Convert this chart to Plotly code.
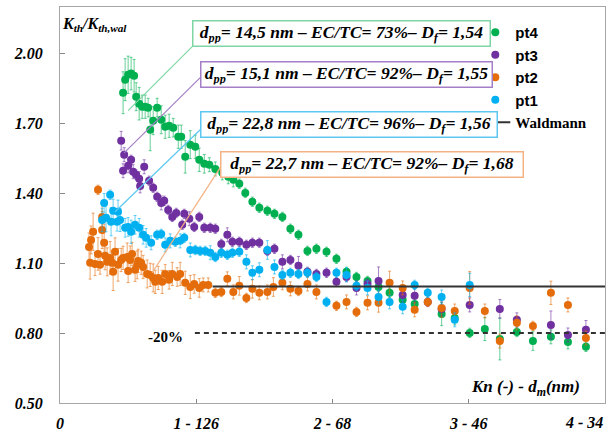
import plotly.graph_objects as go

# ---------------- data ----------------
pt4_x = [0.463,0.478,0.500,0.522,0.544,0.559,0.581,0.603,0.625,0.647,0.662,0.684,0.713,0.743,0.772,0.801,0.831,0.868,0.890,0.919,0.956,0.993,1.022,1.059,1.096,1.140,1.191,1.235,1.272,1.316,1.360,1.412,1.463,1.522,1.574,1.632,1.691,1.750,1.816,1.882,1.956,2.029,2.103,2.176,2.257,2.338,2.419,2.515,2.603,2.801,2.897,3.007,3.118,3.228,3.353,3.471,3.603,3.728,3.860]
pt4_y = [1.832,1.888,1.909,1.914,1.905,1.815,1.785,1.772,1.772,1.768,1.673,1.712,1.768,1.716,1.686,1.690,1.682,1.643,1.643,1.557,1.609,1.600,1.544,1.527,1.523,1.505,1.488,1.471,1.458,1.441,1.402,1.364,1.338,1.325,1.312,1.299,1.248,1.222,1.153,1.162,1.149,1.119,1.063,1.041,1.024,0.998,0.973,0.943,0.925,0.882,0.865,0.801,0.818,0.775,0.805,0.766,0.784,0.762,0.741]
pt4_err = [0.09,0.09,0.08,0.07,0.07,0.06,0.07,0.05,0.05,0.04,0.09,0.06,0.04,0.06,0.05,0.05,0.04,0.05,0.05,0.07,0.06,0.05,0.05,0.04,0.03,0.03,0.03,0.03,0.03,0.02,0.02,0.02,0.02,0.02,0.02,0.02,0.02,0.02,0.02,0.02,0.02,0.02,0.02,0.02,0.02,0.02,0.02,0.03,0.02,0.05,0.03,0.02,0.05,0.09,0.02,0.04,0.03,0.03,0.02]

pt3_x = [0.449,0.463,0.471,0.500,0.522,0.537,0.559,0.581,0.588,0.618,0.654,0.684,0.713,0.743,0.765,0.794,0.824,0.853,0.897,0.912,0.949,0.985,1.022,1.059,1.103,1.140,1.184,1.228,1.265,1.316,1.368,1.412,1.463,1.522,1.574,1.632,1.691,1.750,1.816,1.882,1.956,2.029,2.103,2.176,2.257,2.338,2.515,2.603,2.699,2.801,3.007,3.228,3.353,3.603,3.728,3.860]
pt3_y = [1.626,1.497,1.566,1.518,1.544,1.493,1.480,1.463,1.432,1.514,1.454,1.424,1.385,1.359,1.368,1.329,1.299,1.316,1.265,1.312,1.291,1.256,1.299,1.252,1.252,1.248,1.183,1.222,1.192,1.192,1.179,1.188,1.188,1.153,1.162,1.106,1.114,1.089,1.063,1.054,1.059,1.020,1.041,0.994,1.011,1.024,0.964,0.960,0.934,0.904,0.921,0.904,0.857,0.835,0.792,0.814]
pt3_err = [0.04,0.03,0.03,0.03,0.02,0.03,0.02,0.03,0.03,0.03,0.02,0.02,0.02,0.03,0.02,0.02,0.02,0.02,0.02,0.02,0.03,0.02,0.02,0.02,0.02,0.02,0.02,0.03,0.02,0.02,0.02,0.02,0.02,0.02,0.02,0.03,0.02,0.04,0.02,0.02,0.02,0.02,0.02,0.03,0.02,0.06,0.03,0.03,0.02,0.03,0.03,0.04,0.03,0.06,0.03,0.04]

pt2_x = [0.213,0.221,0.228,0.243,0.257,0.279,0.279,0.294,0.309,0.309,0.324,0.331,0.346,0.368,0.382,0.390,0.404,0.426,0.449,0.463,0.493,0.500,0.515,0.529,0.551,0.566,0.574,0.596,0.610,0.640,0.662,0.684,0.699,0.721,0.750,0.772,0.801,0.824,0.860,0.882,0.919,0.956,0.985,1.022,1.051,1.088,1.140,1.184,1.228,1.272,1.316,1.368,1.412,1.463,1.522,1.566,1.632,1.691,1.750,1.816,1.882,2.029,2.103,2.176,2.257,2.338,2.419,2.515,2.603,2.699,2.801,2.897,3.007,3.118,3.228,3.353,3.471,3.603,3.728,3.860]
pt2_y = [1.170,1.102,1.200,1.235,1.097,1.415,1.140,1.093,1.299,1.243,1.188,1.132,1.106,1.123,1.102,1.063,1.149,1.093,1.114,1.123,1.127,1.067,1.114,1.140,1.072,1.093,1.110,1.102,1.084,1.054,1.050,1.037,1.020,1.037,1.020,1.054,1.029,1.054,1.041,1.054,1.016,0.998,1.011,0.994,1.007,1.007,0.973,0.977,1.033,0.977,1.003,0.951,0.990,0.973,0.977,0.998,1.016,0.990,0.981,1.011,0.977,0.917,0.934,0.891,0.930,0.930,1.016,0.994,0.900,0.934,0.908,0.895,0.994,0.895,0.766,0.844,0.831,0.973,0.921,0.779]
pt2_err = [0.06,0.07,0.06,0.08,0.05,0.02,0.07,0.04,0.06,0.08,0.08,0.06,0.06,0.07,0.05,0.08,0.06,0.07,0.05,0.05,0.06,0.05,0.06,0.05,0.05,0.06,0.05,0.05,0.05,0.06,0.05,0.06,0.05,0.05,0.05,0.04,0.04,0.05,0.04,0.05,0.05,0.05,0.04,0.04,0.03,0.03,0.02,0.02,0.03,0.03,0.04,0.02,0.04,0.03,0.03,0.04,0.03,0.03,0.02,0.03,0.03,0.02,0.03,0.02,0.03,0.04,0.05,0.03,0.03,0.02,0.04,0.03,0.07,0.03,0.03,0.03,0.02,0.05,0.03,0.03]

pt1_x = [0.309,0.324,0.338,0.368,0.375,0.390,0.419,0.426,0.441,0.478,0.500,0.522,0.551,0.581,0.610,0.632,0.669,0.713,0.743,0.772,0.809,0.846,0.882,0.912,0.956,0.993,1.029,1.066,1.103,1.140,1.184,1.228,1.265,1.316,1.368,1.412,1.463,1.522,1.574,1.632,1.691,1.750,1.816,1.882,1.956,2.029,2.103,2.176,2.257,2.338,2.419,2.515,2.603,2.699,2.801,2.897,3.007]
pt1_y = [1.286,1.359,1.295,1.394,1.278,1.325,1.278,1.321,1.286,1.252,1.256,1.235,1.265,1.252,1.222,1.209,1.188,1.222,1.226,1.179,1.196,1.192,1.196,1.209,1.157,1.157,1.153,1.153,1.145,1.127,1.145,1.136,1.145,1.149,1.106,1.059,1.072,1.157,1.084,1.050,1.059,1.054,1.059,1.041,0.934,1.059,1.050,1.003,0.994,0.955,0.934,0.913,1.007,0.973,0.955,0.857,1.007]
pt1_err = [0.05,0.04,0.06,0.02,0.06,0.05,0.04,0.05,0.05,0.04,0.04,0.05,0.04,0.04,0.04,0.04,0.03,0.02,0.02,0.03,0.03,0.02,0.03,0.02,0.03,0.02,0.02,0.02,0.03,0.02,0.02,0.02,0.02,0.02,0.03,0.03,0.03,0.04,0.03,0.02,0.02,0.02,0.02,0.02,0.02,0.02,0.03,0.02,0.03,0.03,0.03,0.03,0.02,0.02,0.03,0.03,0.05]

waldmann_x = [1.12, 4.0]
waldmann_y = [1.0, 1.0]
minus20_x = [0.99, 4.0]
minus20_y = [0.8, 0.8]

x_tickvals = [0, 1, 2, 3]
x_ticktext = ["0", "1 - 126", "2 - 68", "3 - 46"]
x_last_label = "4 - 34"

box_texts = [
    "d<sub>pp</sub>= 14,5 nm – EC/TC= 73%– D<sub>f</sub>= 1,54",
    "d<sub>pp</sub>= 15,1 nm – EC/TC= 92%– D<sub>f</sub>= 1,55",
    "d<sub>pp</sub>= 22,8 nm – EC/TC= 96%– D<sub>f</sub>= 1,56",
    "d<sub>pp</sub>= 22,7 nm – EC/TC= 92%– D<sub>f</sub>= 1,68",
]

# ---------------- styling ----------------
SERIF = "Liberation Serif"
SANS = "Liberation Sans"
C4, C3, C2, C1 = "#00b050", "#7030a0", "#e46c0a", "#00b0f0"
E4, E3, E2, E1 = "rgba(0,176,80,0.6)", "rgba(112,48,160,0.6)", "rgba(228,108,10,0.6)", "rgba(0,176,240,0.6)"
B4, B3, B2, B1 = "#7fd6a4", "#a47fc8", "#f4b183", "#5cc8f2"
LINE_C = "#333333"

fig = go.Figure()

def add_pts(x, y, err, name, color, ecolor):
    fig.add_trace(go.Scatter(
        x=x, y=y, mode="markers", name=name,
        marker=dict(color=color, size=8, line=dict(width=0)),
        error_y=dict(type="data", array=err, visible=True, color=ecolor, thickness=1, width=1.5),
    ))

add_pts(pt4_x, pt4_y, pt4_err, "pt4", C4, E4)
add_pts(pt3_x, pt3_y, pt3_err, "pt3", C3, E3)
add_pts(pt2_x, pt2_y, pt2_err, "pt2", C2, E2)
add_pts(pt1_x, pt1_y, pt1_err, "pt1", C1, E1)

# Waldmann reference line
fig.add_trace(go.Scatter(
    x=waldmann_x, y=waldmann_y, mode="lines",
    name='<span style="font-family:Liberation Serif">Waldmann</span>',
    line=dict(color=LINE_C, width=2),
))
fig.add_trace(go.Scatter(
    x=minus20_x, y=minus20_y, mode="lines", showlegend=False,
    line=dict(color=LINE_C, width=2, dash="5px,4px"),
))

# leader lines from boxes to curves
leaders = [
    ((0.978, 2.034), (0.500, 1.755), B4),
    ((1.029, 1.897), (0.471, 1.574), B3),
    ((1.029, 1.673), (0.404, 1.321), B1),
    ((1.184, 1.518), (0.676, 1.059), B2),
]
for (x0, y0), (x1, y1), c in leaders:
    fig.add_shape(type="line", x0=x0, y0=y0, x1=x1, y1=y1, xref="x", yref="y",
                  line=dict(color=c, width=1.2), layer="above")

# annotation boxes
box_specs = [
    (0.5156, 0.9343, 292, B4),
    (0.5248, 0.8283, 286, B3),
    (0.5294, 0.7045, 291, B1),
    (0.5716, 0.6035, 297, B2),
]
for txt, (bx, by, bw, bc) in zip(box_texts, box_specs):
    fig.add_annotation(
        x=bx, y=by, xref="paper", yref="paper", text=txt, showarrow=False,
        font=dict(family=SERIF, size=17.5, color="black", weight="bold", style="italic"),
        bgcolor="white", bordercolor=bc, borderwidth=1.5, borderpad=2,
        width=bw, height=20, xanchor="center", yanchor="middle", align="center",
    )

tickfont = dict(family=SERIF, size=16, color="black", weight="bold", style="italic")

# axis titles as in the original (inside the frame)
fig.add_annotation(
    x=0, y=0.955, xref="paper", yref="paper", xanchor="left", yanchor="middle",
    text="K<sub>th</sub>/K<sub>th,wal</sub>", showarrow=False,
    font=dict(family=SERIF, size=16, color="black", weight="bold", style="italic"),
)
fig.add_annotation(
    x=0.958, y=0.038, xref="paper", yref="paper", xanchor="right", yanchor="middle",
    text="Kn (-) - d<sub>m</sub>(nm)", showarrow=False,
    font=dict(family=SERIF, size=17, color="black", weight="bold", style="italic"),
)
fig.add_annotation(
    x=0.92, y=0.784, xref="x", yref="y", xanchor="right", yanchor="middle",
    text="-20%", showarrow=False,
    font=dict(family=SERIF, size=15, color="black", weight="bold"),
)
fig.add_annotation(
    x=4.0, y=0, xref="x", yref="paper", xanchor="right", yanchor="top", yshift=-9,
    text=x_last_label, showarrow=False, font=tickfont,
)

fig.update_layout(
    width=614, height=432,
    margin=dict(l=60, r=9, t=7, b=29, autoexpand=False),
    paper_bgcolor="white", plot_bgcolor="white",
    showlegend=True,
    legend=dict(
        x=0.762, y=0.977, xanchor="left", yanchor="top",
        font=dict(family=SANS, size=15, color="black", weight="bold"),
        bgcolor="rgba(0,0,0,0)", itemwidth=30, tracegroupgap=0,
    ),
    xaxis=dict(
        range=[0, 4], tickvals=x_tickvals, ticktext=x_ticktext, automargin=False,
        ticks="inside", ticklen=4, tickcolor="#888888",
        showline=True, linecolor="#a6a6a6", linewidth=1, mirror=True,
        showgrid=False, zeroline=False, tickfont=tickfont, ticklabelstandoff=6,
    ),
    yaxis=dict(
        range=[0.5, 2.2], tick0=0.5, dtick=0.3, tickformat=".2f", automargin=False,
        ticks="inside", ticklen=5, tickcolor="#888888",
        showline=True, linecolor="#a6a6a6", linewidth=1, mirror=True,
        showgrid=False, zeroline=False, tickfont=tickfont, ticklabelstandoff=13,
    ),
)

fig.write_html(
    "out.html",
    config={"displayModeBar": False},
    post_script="document.body.style.margin='0';",
)
